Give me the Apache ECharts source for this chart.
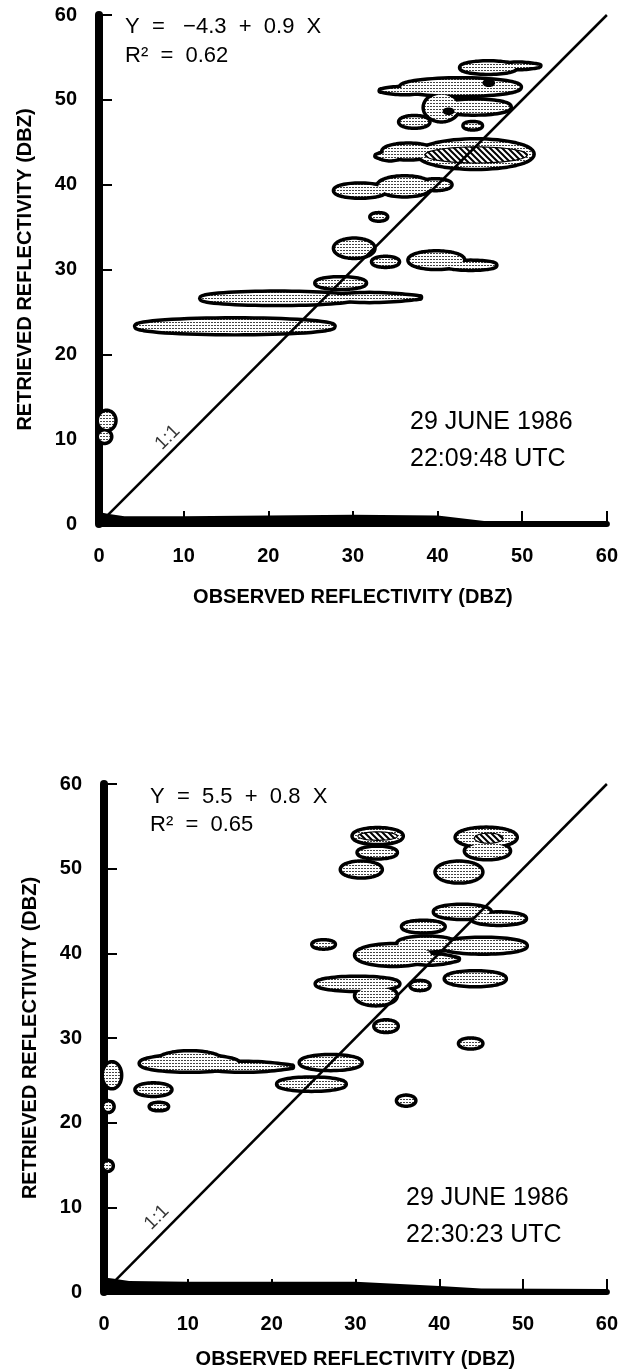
<!DOCTYPE html>
<html>
<head>
<meta charset="utf-8">
<script src="https://cdn.jsdelivr.net/npm/echarts@6/dist/echarts.min.js"></script>
<style>
html,body{margin:0;padding:0;background:#fff;}
#main{width:621px;height:1370px;}
</style>
</head>
<body>
<div id="main"></div>
<script>
// axis ticks
var ticks = [0, 10, 20, 30, 40, 50, 60];

// contour lobes: [xMin, xMax, yCenter, halfHeight] in dBZ
var lobesA = [
    [42.8, 49.2, 53.8, 0.6],
    [35.7, 49.7, 51.5, 0.9],
    [38.5, 42.4, 49.1, 1.5],
    [40.3, 48.5, 49.15, 0.75],
    [35.6, 38.9, 47.4, 0.55],
    [43.2, 45.1, 46.95, 0.3],
    [33.6, 39.5, 43.9, 0.8],
    [37.8, 51.2, 43.6, 1.6],
    [27.9, 33.8, 39.3, 0.7],
    [33.0, 39.2, 39.8, 1.05],
    [38.0, 41.5, 40.0, 0.5],
    [32.2, 33.9, 36.2, 0.3],
    [27.9, 32.4, 32.5, 1.0],
    [32.4, 35.3, 30.9, 0.45],
    [36.7, 43.0, 31.1, 0.9],
    [41.0, 46.8, 30.5, 0.4],
    [25.7, 31.4, 28.4, 0.55],
    [12.1, 30.0, 26.6, 0.65],
    [4.4, 27.7, 23.3, 0.8],
    [0, 1.8, 12.2, 1.0],
    [0, 1.3, 10.3, 0.6]
];
// thin pointed tails: [xMin, xMax, yCenter, halfHeight]
var spikesA = [
    [47.0, 52.0, 54.0, 0.25],
    [33.3, 39.0, 51.1, 0.3],
    [32.8, 36.0, 43.4, 0.4],
    [26.0, 37.9, 26.7, 0.4]
];
var hatchA = [[38.5, 50.6, 43.5, 0.95]];
var coresA = [[45.3, 46.8, 52.0, 0.5], [40.6, 42.0, 48.65, 0.45]];
var bandA = [[0, 1.4], [1, 1.2], [3, 0.9], [10, 0.9], [20, 1.0], [30, 1.1], [40, 1.0], [46, 0.3], [60, 0.3]];

var lobesB = [
    [29.8, 35.5, 53.85, 0.8],
    [30.4, 34.8, 51.9, 0.55],
    [28.4, 33.0, 49.9, 0.8],
    [42.1, 49.1, 53.7, 1.0],
    [43.2, 48.3, 52.1, 0.85],
    [39.7, 45.0, 49.6, 1.1],
    [39.5, 46.0, 44.9, 0.7],
    [44.0, 50.2, 44.1, 0.6],
    [35.7, 40.5, 43.15, 0.55],
    [25.0, 27.4, 41.05, 0.35],
    [30.1, 39.0, 39.8, 1.15],
    [35.1, 41.9, 41.1, 0.75],
    [40.2, 50.3, 40.9, 0.8],
    [40.8, 47.8, 37.0, 0.75],
    [25.4, 35.1, 36.4, 0.7],
    [30.1, 34.8, 35.0, 1.0],
    [36.7, 38.7, 36.2, 0.4],
    [32.4, 34.9, 31.4, 0.55],
    [42.5, 45.0, 29.35, 0.45],
    [23.5, 30.6, 27.1, 0.75],
    [4.4, 16.0, 27.0, 0.85],
    [6.5, 14.0, 27.3, 1.0],
    [20.8, 28.7, 24.55, 0.65],
    [3.9, 7.9, 23.9, 0.6],
    [5.6, 7.5, 21.9, 0.3],
    [35.1, 37.0, 22.6, 0.45],
    [0, 1.9, 25.6, 1.4],
    [0, 1.0, 21.9, 0.5],
    [0, 0.9, 14.9, 0.45]
];
var spikesB = [
    [11.0, 22.4, 26.6, 0.45],
    [35.5, 42.2, 39.3, 0.5]
];
var hatchB = [[30.3, 35.0, 53.85, 0.5], [44.2, 47.6, 53.6, 0.6]];
var coresB = [];
var bandB = [[0, 1.7], [1, 1.6], [3, 1.3], [10, 1.2], [20, 1.2], [30, 1.2], [40, 0.7], [45, 0.4], [60, 0.35]];

var diag = [[0.8, 0.8], [60, 60]];

var FONT = '"Liberation Sans", Arial, sans-serif';

// fill patterns
function makeDots() {
    var c = document.createElement('canvas');
    c.width = 3; c.height = 3;
    var g = c.getContext('2d');
    g.fillStyle = '#fff'; g.fillRect(0, 0, 3, 3);
    g.fillStyle = '#444'; g.fillRect(1, 1, 2, 1);
    return c;
}
function makeHatch() {
    var c = document.createElement('canvas');
    c.width = 6; c.height = 6;
    var g = c.getContext('2d');
    g.fillStyle = '#fff'; g.fillRect(0, 0, 6, 6);
    g.strokeStyle = '#000'; g.lineWidth = 2;
    g.beginPath();
    g.moveTo(-1, -1); g.lineTo(7, 7);
    g.moveTo(-1, 5); g.lineTo(1, 7);
    g.moveTo(5, -1); g.lineTo(7, 1);
    g.stroke();
    return c;
}
var dotFill = {image: makeDots(), repeat: 'repeat'};
var hatchFill = {image: makeHatch(), repeat: 'repeat'};

// ellipse (or pointed lens when sharp) from a lobe row
function lobePoints(api, sharp) {
    var a = api.coord([api.value(0), api.value(2)]);
    var b = api.coord([api.value(1), api.value(2) + api.value(3)]);
    var cx = (a[0] + b[0]) / 2, cy = a[1];
    var rx = (b[0] - a[0]) / 2, ry = a[1] - b[1];
    var pts = [];
    for (var k = 0; k < 64; k++) {
        var t = k / 64 * Math.PI * 2;
        var s = Math.sin(t);
        var dy = sharp ? (s < 0 ? -1 : 1) * Math.pow(Math.abs(s), 2.2) : s;
        pts.push([cx + rx * Math.cos(t), cy + ry * dy]);
    }
    return pts;
}

function lobeRender(kind, sharp) {
    return function (params, api) {
        var style;
        if (kind == 'outline') style = {fill: '#000', stroke: '#000', lineWidth: 7, lineJoin: 'round'};
        else if (kind == 'inner') style = {fill: dotFill};
        else if (kind == 'hatch') style = {fill: hatchFill, stroke: '#000', lineWidth: 1.2};
        else style = {fill: '#000'};
        return {type: 'polygon', shape: {points: lobePoints(api, sharp)}, style: style};
    };
}

function panelSeries(gi, lobes, spikes, hatch, cores, band, lblPos) {
    var base = {xAxisIndex: gi, yAxisIndex: gi, silent: true};
    var enc = {x: [0, 1], y: 2};
    var list = [
        {type: 'line', data: band, symbol: 'none', lineStyle: {width: 0}, areaStyle: {color: '#000', opacity: 1}, z: 2},
        {type: 'custom', data: spikes, encode: enc, renderItem: lobeRender('outline', true), z: 3},
        {type: 'custom', data: lobes, encode: enc, renderItem: lobeRender('outline', false), z: 3},
        {type: 'custom', data: spikes, encode: enc, renderItem: lobeRender('inner', true), z: 4},
        {type: 'custom', data: lobes, encode: enc, renderItem: lobeRender('inner', false), z: 4},
        {type: 'custom', data: hatch, encode: enc, renderItem: lobeRender('hatch', false), z: 5},
        {type: 'custom', data: cores, encode: enc, renderItem: lobeRender('core', false), z: 6},
        {type: 'line', data: diag, symbol: 'none', lineStyle: {color: '#000', width: 2.5}, z: 7},
        {type: 'scatter', data: [lblPos], symbolSize: 1, itemStyle: {color: 'rgba(0,0,0,0)'},
            label: {show: true, formatter: '1:1', rotate: 45, position: 'inside', fontSize: 19, color: '#000', fontFamily: FONT}, z: 8}
    ];
    return list.map(function (s) { return Object.assign({}, base, s); });
}

function xAx(gi, gap) {
    return {
        gridIndex: gi, type: 'value', min: ticks[0], max: ticks[ticks.length - 1], interval: 10,
        splitLine: {show: false},
        axisLine: {lineStyle: {color: '#000', width: 6}},
        axisTick: {inside: true, length: 13, lineStyle: {color: '#000', width: 2}},
        axisLabel: {margin: 22, color: '#000', fontSize: 20, fontWeight: 'bold', fontFamily: FONT},
        name: 'OBSERVED REFLECTIVITY (DBZ)', nameLocation: 'middle', nameGap: gap,
        nameTextStyle: {color: '#000', fontSize: 20, fontWeight: 'bold', fontFamily: FONT}
    };
}
function yAx(gi) {
    return {
        gridIndex: gi, type: 'value', min: ticks[0], max: ticks[ticks.length - 1], interval: 10,
        splitLine: {show: false},
        axisLine: {lineStyle: {color: '#000', width: 8}},
        axisTick: {inside: true, length: 13, lineStyle: {color: '#000', width: 2}},
        axisLabel: {margin: 22, color: '#000', fontSize: 20, fontWeight: 'bold', fontFamily: FONT},
        name: 'RETRIEVED REFLECTIVITY (DBZ)', nameLocation: 'middle', nameGap: 64,
        nameTextStyle: {color: '#000', fontSize: 20, fontWeight: 'bold', fontFamily: FONT}
    };
}

function txt(x, y, s, size) {
    return {type: 'text', x: x, y: y, silent: true,
        style: {text: s, fill: '#000', font: size + 'px ' + FONT, verticalAlign: 'middle'}};
}

var chart = echarts.init(document.getElementById('main'));
chart.setOption({
    animation: false,
    backgroundColor: '#fff',
    grid: [
        {left: 99, top: 15, width: 510, height: 509},
        {left: 104, top: 784, width: 506, height: 509}
    ],
    xAxis: [xAx(0, 63), xAx(1, 57)],
    yAxis: [yAx(0), yAx(1)],
    graphic: [
        txt(125, 27, 'Y  =   \u22124.3  +  0.9  X', 22),
        txt(125, 56, 'R\u00b2  =  0.62', 22),
        txt(410, 422, '29 JUNE 1986', 25),
        txt(410, 459, '22:09:48 UTC', 25),
        txt(150, 797, 'Y  =  5.5  +  0.8  X', 22),
        txt(150, 825, 'R\u00b2  =  0.65', 22),
        txt(406, 1198, '29 JUNE 1986', 25),
        txt(406, 1235, '22:30:23 UTC', 25)
    ],
    series: panelSeries(0, lobesA, spikesA, hatchA, coresA, bandA, [8.1, 10.2])
        .concat(panelSeries(1, lobesB, spikesB, hatchB, coresB, bandB, [6.3, 8.8]))
});
</script>
</body>
</html>
